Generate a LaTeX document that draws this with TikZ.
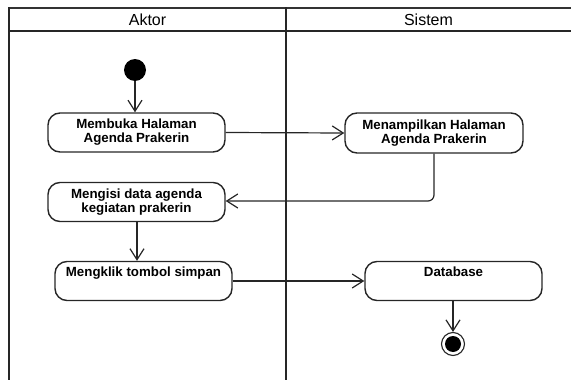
\documentclass[tikz,border=0pt]{standalone}
\usepackage{fontspec}
\setmainfont{Liberation Sans}
\usetikzlibrary{arrows.meta}
\begin{document}
\begin{tikzpicture}[x=1pt,y=-1pt,
  action/.style={draw=black!85, line width=1.4pt, rounded corners=12pt,
    align=center, inner sep=0pt, minimum width=177pt, minimum height=39pt,
    font=\fontsize{13.3}{14}\selectfont\bfseries},
  flow/.style={draw=black!85, line width=1.2pt,
    -{Straight Barb[length=11pt,width=14pt,line width=1.2pt]}},
  lane/.style={line width=2pt, black!85},
  head/.style={font=\fontsize{16}{18}\selectfont}]
\useasboundingbox (0,0) rectangle (571,380);

% swimlane frame
\draw[line width=1.4pt, black!80] (9,8) -- (571,8);
\draw[lane] (8,31) -- (571,31);
\draw[lane] (9,7.3) -- (9,380);
\draw[lane] (286,7.3) -- (286,380);
\node[head] (aktor) at (147.5,19.5) {Aktor};
\node[head] (sistem) at (428.5,19.5) {Sistem};

% start and end
\node[circle, fill=black, minimum size=22pt, inner sep=0pt] (start) at (135,70) {};
\node[circle, draw=black!85, line width=1.1pt, minimum size=23pt, inner sep=0pt] (stop) at (453,344) {};
\node[circle, fill=black, minimum size=16pt, inner sep=0pt] (stopin) at (453,344) {};

% actions
\node[action] (buka) at (136.5,132.5) {Membuka Halaman\\Agenda Prakerin};
\node[action] (isi) at (136.5,202) {Mengisi data agenda\\kegiatan prakerin};
\node[action] (klik) at (143.5,281) {Mengklik tombol simpan\\\strut};
\node[action, minimum width=178pt, minimum height=40pt] (tampil) at (434,133) {Menampilkan Halaman\\Agenda Prakerin};
\node[action] (db) at (453.5,281) {Database\\\strut};

% flows
\draw[flow] (start) -- (start |- buka.north);
\draw[flow] (buka.east) -- (tampil.west);
\draw[flow, rounded corners=6pt] (tampil.south) -- (tampil.south |- 0,201) -- (isi.east |- 0,201);
\draw[flow] (isi.south -| 137,0) -- (137,0 |- klik.north);
\draw[flow] (klik.east) -- (db.west);
\draw[flow] (db.south -| stop) -- (stop.north);
\end{tikzpicture}
\end{document}
